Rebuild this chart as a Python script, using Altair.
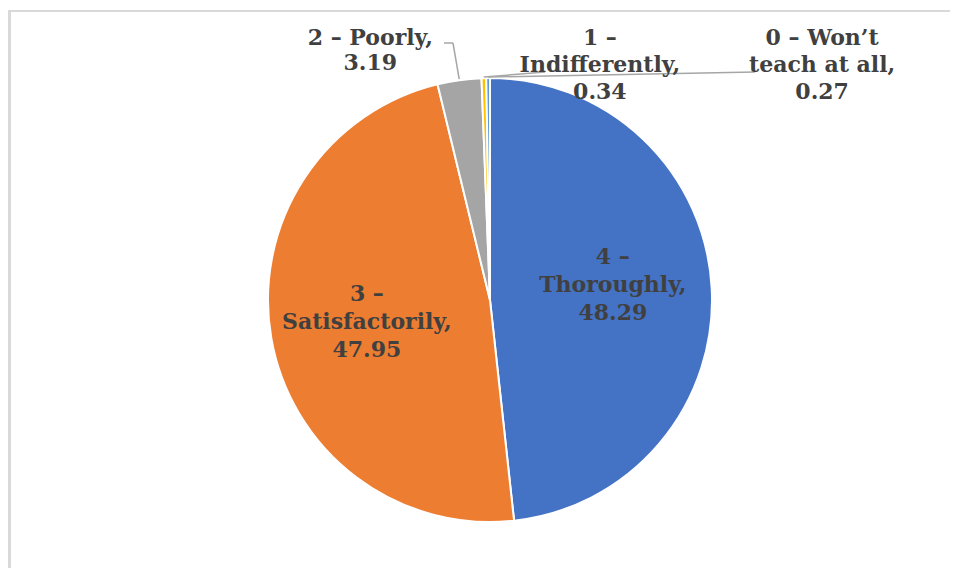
import math
import altair as alt
import pandas as pd

categories = ["4 – Thoroughly", "3 – Satisfactorily", "2 – Poorly",
              "1 – Indifferently", "0 – Won’t teach at all"]
values = [48.29, 47.95, 3.19, 0.34, 0.27]
labels = ["4 –\nThoroughly,\n48.29", "3 –\nSatisfactorily,\n47.95", "2 – Poorly,\n3.19",
          "1 –\nIndifferently,\n0.34", "0 – Won’t\nteach at all,\n0.27"]
colors = ["#4472C4", "#ED7D31", "#A5A5A5", "#FFC000", "#5B9BD5"]

# layout constants (pixels in chart coordinates)
CX, CY, R = 482, 292, 222
W, H = 942, 560

df = pd.DataFrame({"cat": categories, "value": values, "label": labels,
                   "order": list(range(len(values)))})

base = alt.Chart(df).encode(
    theta=alt.Theta("value:Q", stack=True),
    order=alt.Order("order:Q"),
)

pie = base.mark_arc(outerRadius=R, stroke="white", strokeWidth=2).encode(
    color=alt.Color("cat:N", scale=alt.Scale(domain=categories, range=colors), legend=None),
    x=alt.value(CX), y=alt.value(CY),
)


def label_layer(idx, radius, dx, dy, lh=28):
    return base.transform_calculate(
        t=f"datum.order == {idx} ? datum.label : ''"
    ).mark_text(
        radius=radius, dx=dx, dy=dy, font="DejaVu Serif", fontWeight="bold",
        fontSize=22, color="#404040", lineBreak="\n", lineHeight=lh,
        align="center", baseline="middle",
    ).encode(text="t:N", x=alt.value(CX), y=alt.value(CY))


texts = [
    label_layer(0, 123, 0, -36, 28),
    label_layer(1, 125, 0, -28, 28),
    label_layer(2, R, -89, -42, 25),
    label_layer(3, R, 116, -40, 27),
    label_layer(4, R, 334, -40, 27),
]

# leader lines: start at slice edge midpoint (from data), end near label
total = sum(values)
cum = 0.0
edges = []
for v in values:
    mid = (cum + v / 2) / total * 2 * math.pi
    edges.append((CX + (R + 1) * math.sin(mid), CY - (R + 1) * math.cos(mid)))
    cum += v

segs = [
    (edges[2][0], edges[2][1], 445, 35),
    (445, 35, 436, 35),
    (edges[3][0], edges[3][1], 537, 64),
    (edges[4][0], edges[4][1], 747, 64),
]
seg_df = pd.DataFrame(segs, columns=["x", "y", "x2", "y2"])
leaders = alt.Chart(seg_df).mark_rule(color="#A6A6A6", strokeWidth=1.5).encode(
    x=alt.X("x:Q", scale=None), y=alt.Y("y:Q", scale=None),
    x2="x2:Q", y2="y2:Q",
)

frame_top = alt.Chart(df).mark_rule(color="#D9D9D9", strokeWidth=2).encode(
    x=alt.value(0), x2=alt.value(W), y=alt.value(3))
frame_left = alt.Chart(df).mark_rule(color="#D9D9D9", strokeWidth=2.5).encode(
    x=alt.value(1.5), y=alt.value(2), y2=alt.value(H))

chart = alt.layer(frame_top, frame_left, pie, leaders, *texts).properties(
    width=W, height=H, autosize="none", padding=0,
).configure_view(stroke=None)

chart.save("out.html", embed_options={"renderer": "svg", "actions": False})
